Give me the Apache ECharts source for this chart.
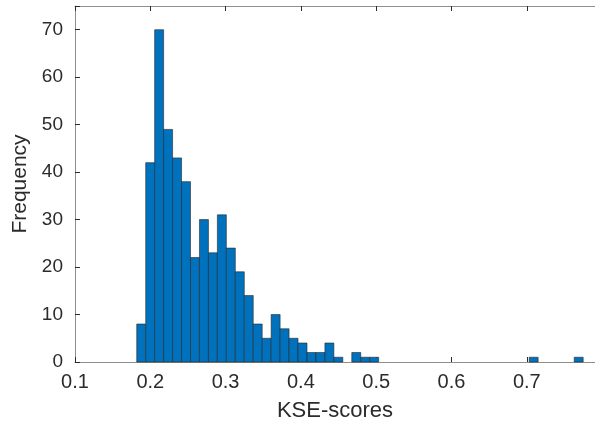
<!DOCTYPE html>
<html>
<head>
<meta charset="utf-8">
<script src="https://cdn.jsdelivr.net/npm/echarts@6/dist/echarts.min.js"></script>
<style>html,body{margin:0;padding:0;background:#fff}#c{width:595px;height:429px}</style>
</head>
<body>
<div id="c"></div>
<script>
// Histogram bins (left edges in KSE-score units) and counts
var binStart = 0.182;
var binWidth = 0.0119;
var counts = [8, 42, 70, 49, 43, 38, 22, 30, 23, 31, 24, 19, 14, 8, 5, 10, 7, 5, 4, 2, 2, 4, 1, 0, 2, 1, 1];
var outlierLeft = [0.7032, 0.7630];
var outlierCounts = [1, 1];
var xTicks = [0.1, 0.2, 0.3, 0.4, 0.5, 0.6, 0.7];
var yTicks = [0, 10, 20, 30, 40, 50, 60, 70];
var xTitle = 'KSE-scores';
var yTitle = 'Frequency';

var bars = [];
counts.forEach(function (c, i) {
  var l = binStart + i * binWidth;
  if (c > 0) bars.push([l, l + binWidth, c]);
});
outlierLeft.forEach(function (l, i) {
  bars.push([l, l + binWidth, outlierCounts[i]]);
});

var axisColor = '#8f8f8f';
var textColor = '#2b2b2b';
var font = 'Liberation Sans';

var chart = echarts.init(document.getElementById('c'), null, {renderer: 'canvas'});
chart.setOption({
  animation: false,
  backgroundColor: '#fff',
  grid: {left: 75, right: 0, top: 6, bottom: 67},
  xAxis: [{
    type: 'value', min: 0.1, max: 0.7906, interval: 0.1, position: 'bottom',
    name: xTitle, nameLocation: 'middle', nameGap: 38,
    nameTextStyle: {color: textColor, fontSize: 22, fontFamily: font},
    axisLine: {show: true, lineStyle: {color: axisColor, width: 1}},
    axisTick: {show: true, inside: true, length: 5, lineStyle: {color: textColor, width: 1}},
    axisLabel: {color: textColor, fontSize: 20, fontFamily: font, margin: 10,
      showMaxLabel: false,
      formatter: function (v) {
        for (var i = 0; i < xTicks.length; i++) if (Math.abs(v - xTicks[i]) < 1e-6) return String(xTicks[i]);
        return '';
      }},
    splitLine: {show: false}
  }, {
    type: 'value', min: 0.1, max: 0.7906, interval: 0.1, position: 'top',
    axisLine: {show: true, lineStyle: {color: axisColor, width: 1}},
    axisTick: {show: true, inside: true, length: 5, lineStyle: {color: textColor, width: 1}},
    axisLabel: {show: false},
    splitLine: {show: false}
  }],
  yAxis: [{
    type: 'value', min: 0, max: 75, interval: 10,
    name: yTitle, nameLocation: 'middle', nameGap: 34, nameRotate: 90,
    nameTextStyle: {color: textColor, fontSize: 21, fontFamily: font},
    axisLine: {show: true, lineStyle: {color: axisColor, width: 1}},
    axisTick: {show: true, inside: true, length: 5, lineStyle: {color: textColor, width: 1}},
    axisLabel: {color: textColor, fontSize: 19, fontFamily: font, margin: 12,
      formatter: function (v) { return yTicks.indexOf(v) >= 0 ? String(v) : ''; }},
    splitLine: {show: false}
  }],
  series: [{
    type: 'custom',
    xAxisIndex: 0, yAxisIndex: 0,
    encode: {x: [0, 1], y: 2},
    data: bars,
    renderItem: function (params, api) {
      var p0 = api.coord([api.value(0), api.value(2)]);
      var p1 = api.coord([api.value(1), 0]);
      return {
        type: 'rect',
        shape: {x: p0[0], y: p0[1], width: p1[0] - p0[0], height: p1[1] - p0[1]},
        style: {fill: '#0072BD', stroke: '#262626', lineWidth: 0.6}
      };
    }
  }]
});
</script>
</body>
</html>
